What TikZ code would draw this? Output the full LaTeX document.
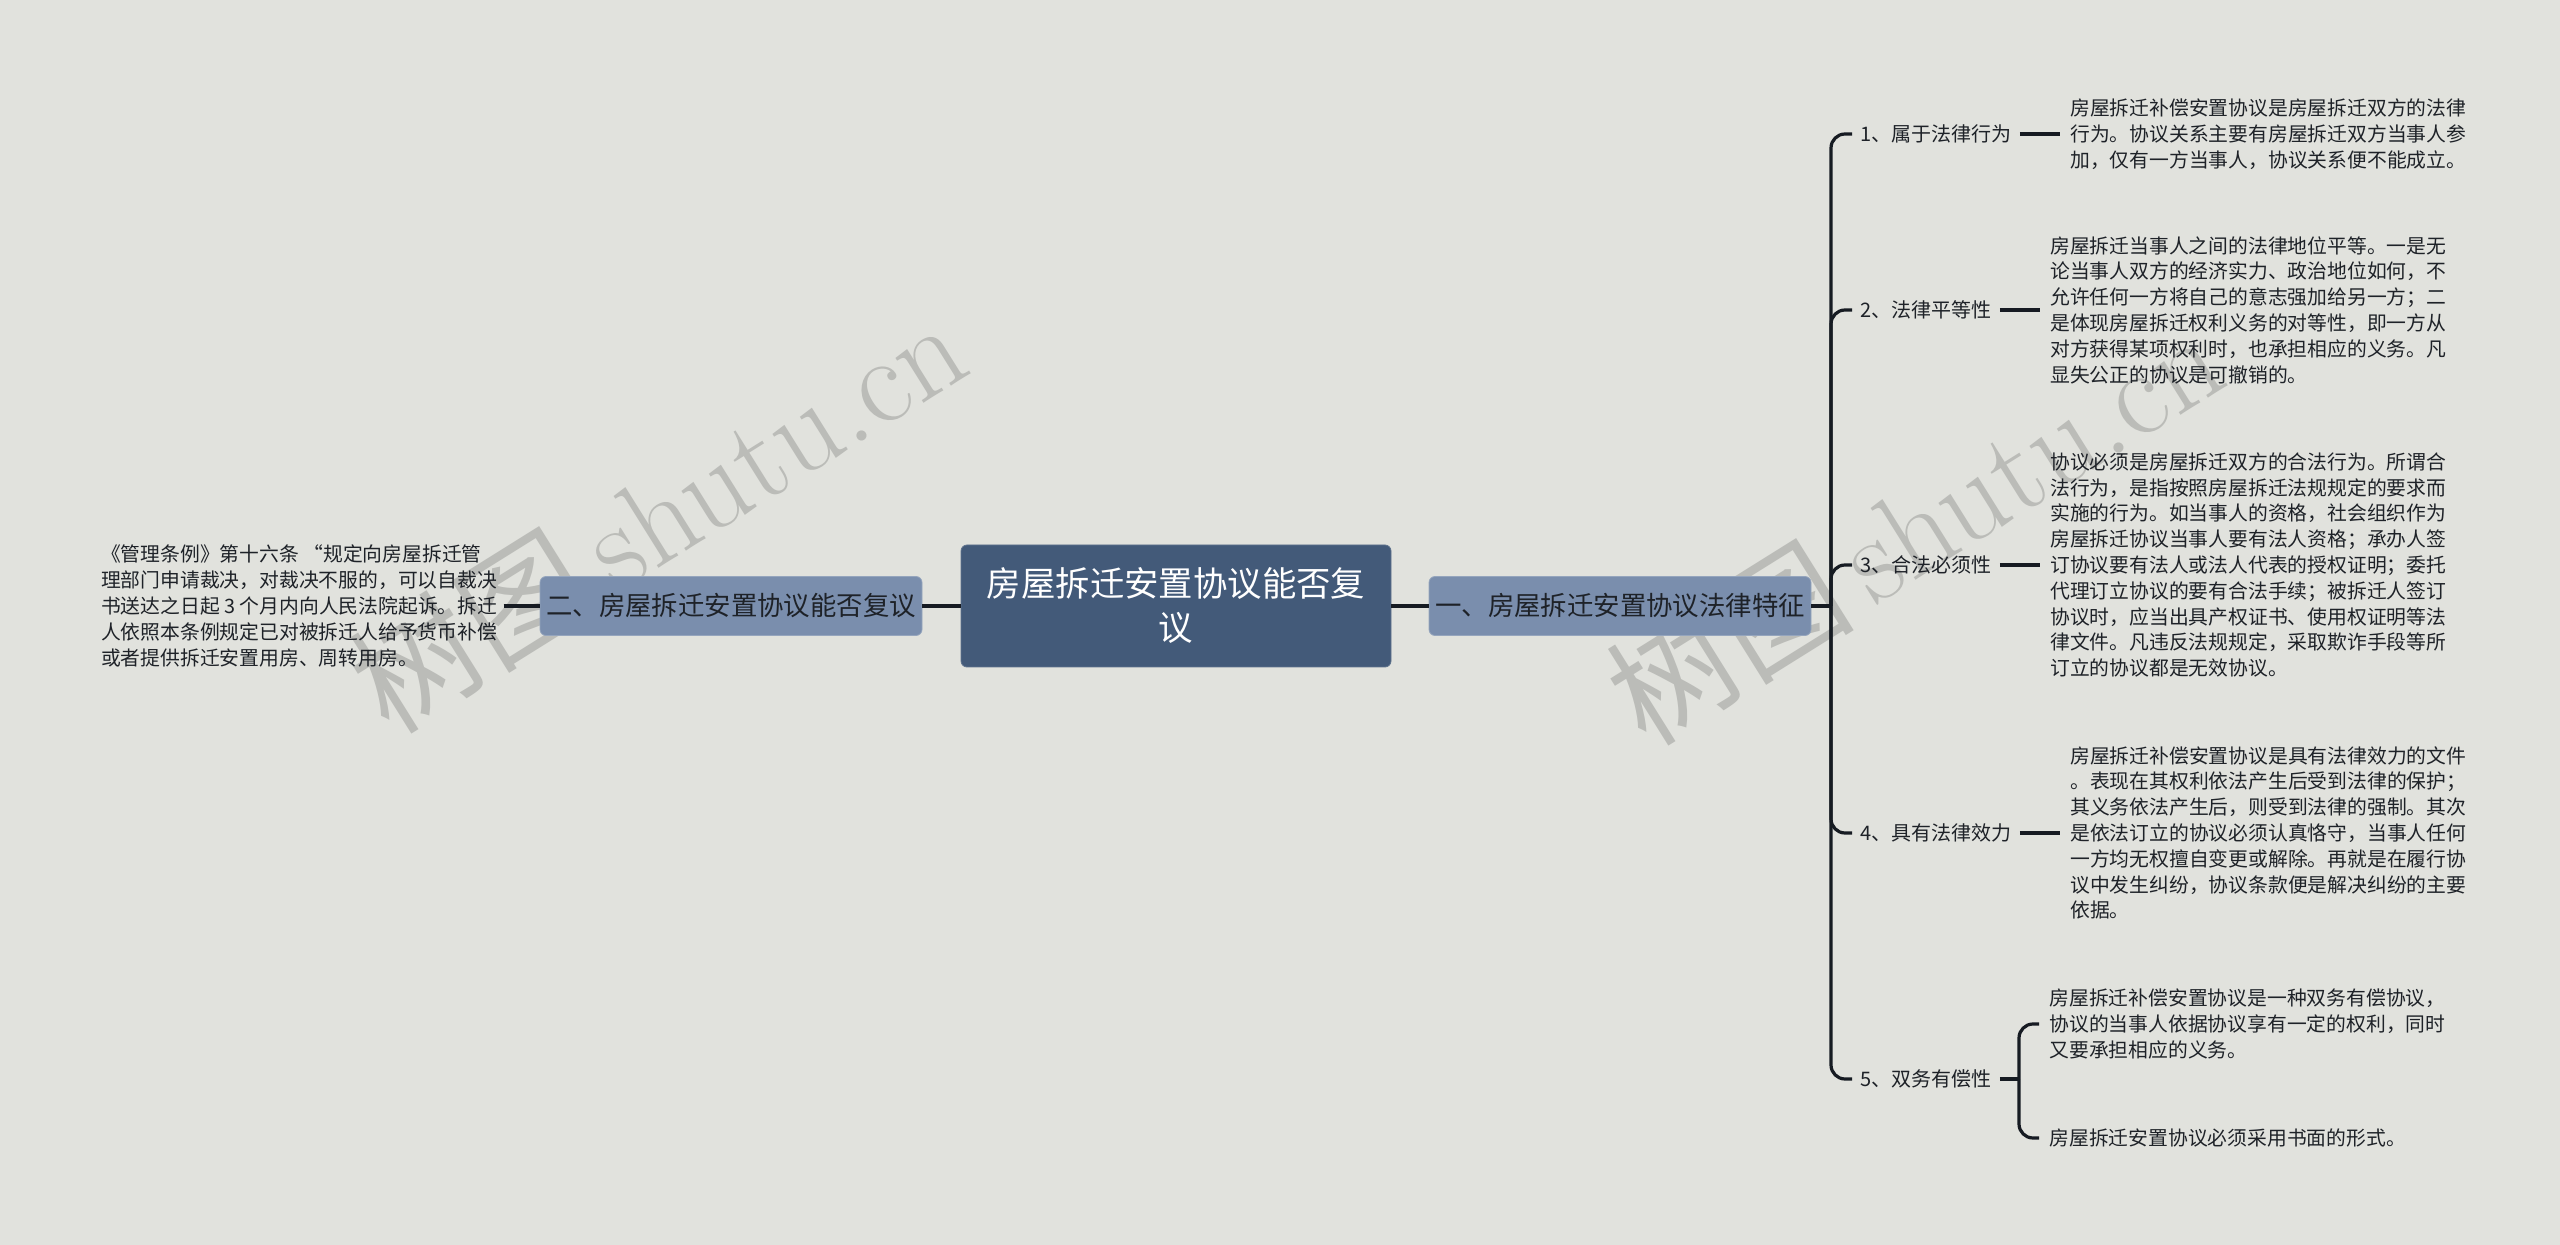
\documentclass[tikz,border=0pt]{standalone}
\usepackage{fontspec}
\newfontfamily\cjk{Noto Sans CJK SC}
\definecolor{bgc}{HTML}{E1E2DD}
\definecolor{rootc}{HTML}{435A79}
\definecolor{secc}{HTML}{7A8EAD}
\definecolor{linec}{HTML}{161B22}
\definecolor{txt}{HTML}{1E2228}
\definecolor{wmark}{HTML}{BBBCB8}
\usetikzlibrary{positioning}

\begin{document}
\begin{tikzpicture}[x=0.5pt,y=-0.5pt,
    root/.style={fill=rootc,draw=rootc!85!white,rounded corners=3pt,
      text=white,align=center,minimum width=215pt,minimum height=61pt,
      font=\cjk\fontsize{17.2pt}{22pt}\selectfont},
    sec/.style={fill=secc,draw=secc!80!white,rounded corners=3pt,text=txt,
      minimum width=191pt,minimum height=29.5pt,inner xsep=2pt,
      font=\cjk\fontsize{13.2pt}{16pt}\selectfont},
    lab/.style={text=txt,inner sep=2pt,font=\cjk\fontsize{10pt}{12pt}\selectfont},
    leaf/.style={text=txt,align=left,inner xsep=3pt,inner ysep=2pt,
      font=\cjk\fontsize{9.9pt}{12.9pt}\selectfont},
    conn/.style={draw=linec,line width=1.6pt},
    brk/.style={conn,rounded corners=7pt,shorten >=2pt},
    wmk/.style={text=wmark,rotate=32,font=\fontsize{62pt}{62pt}\selectfont},
  ]
    \path[use as bounding box,fill=bgc] (0,0) rectangle (2560,1245);

    % watermarks
    \node[wmk] (wm1) at (657,514) {{\cjk 树图}\,shutu.cn};
    \node[wmk] (wm2) at (1914,526) {{\cjk 树图}\,shutu.cn};

    % centre and main branches
    \node[root] (root) at (1176,606) {房屋拆迁安置协议能否复\\议};
    \node[sec] (lsec) at (731,606) {二、房屋拆迁安置协议能否复议};
    \node[sec] (rsec) at (1620,606) {一、房屋拆迁安置协议法律特征};
    \draw[conn] (root.west) -- (lsec.east);
    \draw[conn] (root.east) -- (rsec.west);

    % left side
    \node[leaf,left=18pt of lsec] (lleaf) {《管理条例》第十六条 “规定向房屋拆迁管\\
      理部门申请裁决，对裁决不服的，可以自裁决\\
      书送达之日起 3 个月内向人民法院起诉。拆迁\\
      人依照本条例规定已对被拆迁人给予货币补偿\\
      或者提供拆迁安置用房、周转用房。};
    \draw[conn] (lleaf.east) -- (lsec.west);

    % right side
    \coordinate (rj) at (1831,606);
    \node[lab,anchor=west] (c1) at (1856,134) {1、属于法律行为};
    \node[lab,anchor=west] (c2) at (1856,310) {2、法律平等性};
    \node[lab,anchor=west] (c3) at (1856,565) {3、合法必须性};
    \node[lab,anchor=west] (c4) at (1856,833) {4、具有法律效力};
    \node[lab,anchor=west] (c5) at (1856,1079) {5、双务有偿性};
    \draw[conn] (rsec.east) -- (rj);
    \foreach \c in {c1,c2,c3,c4,c5}
      \draw[brk] (rj) |- (\c.west);

    \node[leaf,right=24pt of c1] (l1) {房屋拆迁补偿安置协议是房屋拆迁双方的法律\\
      行为。协议关系主要有房屋拆迁双方当事人参\\
      加，仅有一方当事人，协议关系便不能成立。};
    \node[leaf,right=24pt of c2] (l2) {房屋拆迁当事人之间的法律地位平等。一是无\\
      论当事人双方的经济实力、政治地位如何，不\\
      允许任何一方将自己的意志强加给另一方；二\\
      是体现房屋拆迁权利义务的对等性，即一方从\\
      对方获得某项权利时，也承担相应的义务。凡\\
      显失公正的协议是可撤销的。};
    \node[leaf,right=24pt of c3] (l3) {协议必须是房屋拆迁双方的合法行为。所谓合\\
      法行为，是指按照房屋拆迁法规规定的要求而\\
      实施的行为。如当事人的资格，社会组织作为\\
      房屋拆迁协议当事人要有法人资格；承办人签\\
      订协议要有法人或法人代表的授权证明；委托\\
      代理订立协议的要有合法手续；被拆迁人签订\\
      协议时，应当出具产权证书、使用权证明等法\\
      律文件。凡违反法规规定，采取欺诈手段等所\\
      订立的协议都是无效协议。};
    \node[leaf,right=24pt of c4] (l4) {房屋拆迁补偿安置协议是具有法律效力的文件\\
      。表现在其权利依法产生后受到法律的保护；\\
      其义务依法产生后，则受到法律的强制。其次\\
      是依法订立的协议必须认真恪守，当事人任何\\
      一方均无权擅自变更或解除。再就是在履行协\\
      议中发生纠纷，协议条款便是解决纠纷的主要\\
      依据。};
    \foreach \c/\l in {c1/l1,c2/l2,c3/l3,c4/l4}
      \draw[conn,shorten <=2pt,shorten >=2pt] (\c.east) -- (\l.west);

    % item 5 splits in two
    \coordinate (j5) at (2019,1079);
    \node[leaf,anchor=west] (l5a) at (2043,1024) {房屋拆迁补偿安置协议是一种双务有偿协议，\\
      协议的当事人依据协议享有一定的权利，同时\\
      又要承担相应的义务。};
    \node[leaf,anchor=west] (l5b) at (2043,1138) {房屋拆迁安置协议必须采用书面的形式。};
    \draw[conn,shorten <=2pt] (c5.east) -- (j5);
    \draw[brk] (j5) |- (l5a.west);
    \draw[brk] (j5) |- (l5b.west);
  \end{tikzpicture}
\end{document}
